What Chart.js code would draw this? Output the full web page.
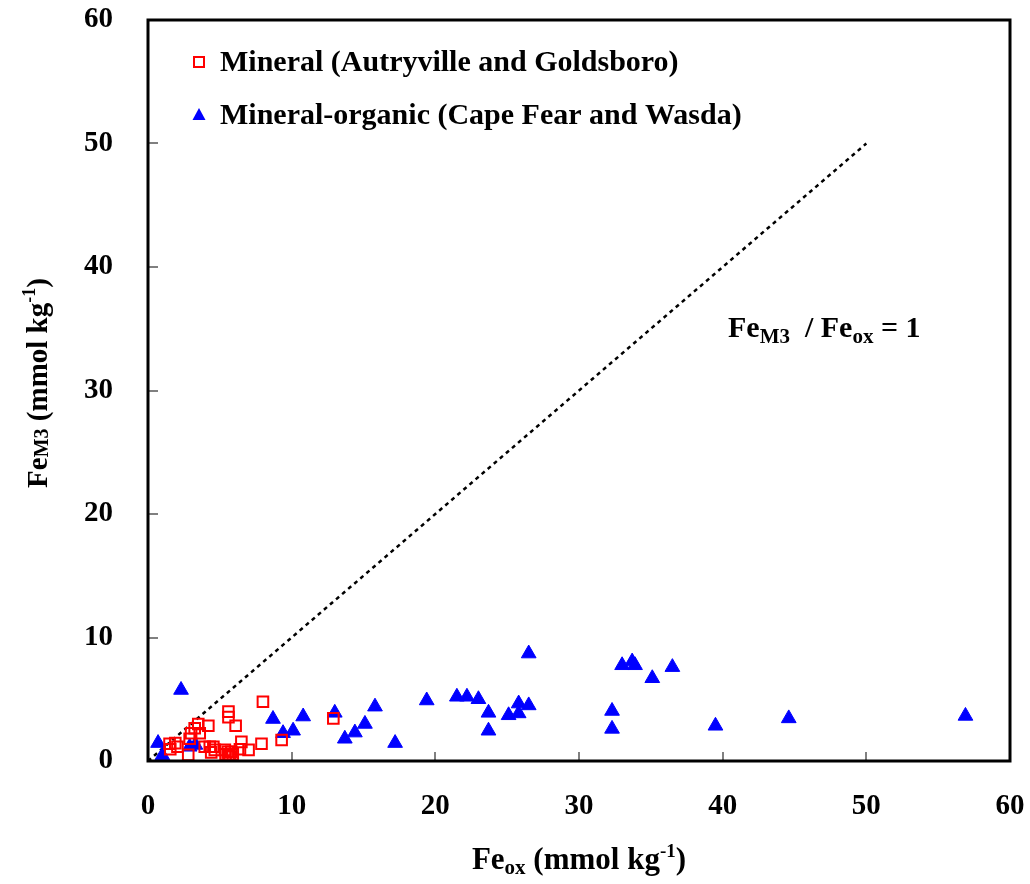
<!DOCTYPE html>
<html>
<head>
<meta charset="utf-8">
<title>FeM3 vs Feox</title>
<script src="https://cdn.jsdelivr.net/npm/chart.js@4.4.1/dist/chart.umd.min.js"></script>
<style>
  html, body { margin: 0; padding: 0; background: #fff; }
</style>
</head>
<body>
<canvas id="myChart" width="1030" height="884"></canvas>
<script>
// ------------------ DATA ------------------ //
// Mineral soils (Autryville and Goldsboro)
const mineralX = [1.55, 1.5, 1.9, 2.05, 2.8, 2.9, 3.0, 3.25, 3.5, 3.6, 3.95, 4.2, 4.3, 4.4, 4.55, 4.65,
                  5.35, 5.4, 5.55, 5.6, 5.7, 5.8, 5.9, 5.6, 5.6, 6.1, 6.4, 6.5, 7.0, 7.9, 8.0, 9.3, 12.9];
const mineralY = [0.95, 1.4, 1.45, 1.15, 0.5, 1.8, 2.25, 2.65, 3.0, 2.25, 1.15, 2.85, 1.15, 0.7, 1.15, 0.9,
                  0.9, 0.55, 0.75, 0.45, 0.35, 0.75, 0.55, 4.0, 3.55, 2.85, 0.95, 1.55, 0.9, 1.4, 4.8, 1.7, 3.45];

// Mineral-organic soils (Cape Fear and Wasda)
const organicX = [0.7, 1.0, 2.3, 2.9, 3.3, 8.7, 9.4, 10.1, 10.8, 13.0, 13.7, 14.4, 15.1, 15.8, 17.2, 19.4,
                  21.5, 22.2, 23.0, 23.7, 23.7, 25.1, 25.8, 25.8, 26.5, 26.5, 32.3, 32.3, 33.0, 33.7, 33.9,
                  35.1, 36.5, 39.5, 44.6, 56.9];
const organicY = [1.45, 0.45, 5.75, 1.15, 1.3, 3.4, 2.25, 2.45, 3.6, 3.9, 1.8, 2.3, 3.0, 4.4, 1.45, 4.9,
                  5.2, 5.2, 5.0, 3.9, 2.45, 3.7, 4.65, 3.85, 4.5, 8.7, 4.05, 2.6, 7.75, 8.05, 7.75,
                  6.7, 7.6, 2.85, 3.45, 3.65];

// 1:1 reference line
const lineX = [0, 50];
const lineY = [0, 50];

const xTicks = [0, 10, 20, 30, 40, 50, 60];
const yTicks = [0, 10, 20, 30, 40, 50, 60];

const legendLabels = ["Mineral (Autryville and Goldsboro)", "Mineral-organic (Cape Fear and Wasda)"];

const toPoints = (xs, ys) => xs.map((v, i) => ({ x: v, y: ys[i] }));

const SERIF = "'Liberation Serif', 'Times New Roman', serif";

// draw a run of text pieces (normal / sub / superscript) starting at x
function textRuns(ctx, runs, x, y, align) {
  let total = 0;
  runs.forEach(r => {
    ctx.font = "bold " + r.size + "px " + SERIF;
    r.w = ctx.measureText(r.t).width;
    total += r.w;
  });
  let cx = align === "center" ? x - total / 2 : x;
  runs.forEach(r => {
    ctx.font = "bold " + r.size + "px " + SERIF;
    ctx.fillText(r.t, cx, y + (r.dy || 0));
    cx += r.w;
  });
}

// keep the plot box where the layout padding puts it
function noLabelPadding(s) {
  s.paddingTop = 0;
  s.paddingBottom = 0;
  s.paddingLeft = 0;
  s.paddingRight = 0;
}

// ------------------ FRAME, TITLES, LEGEND ------------------ //
const decorations = {
  id: "decorations",
  afterDraw(chart) {
    const { ctx, chartArea: a, scales: { x, y } } = chart;
    ctx.save();

    // short grey tick marks pointing into the plot
    ctx.strokeStyle = "#808080";
    ctx.lineWidth = 2;
    ctx.beginPath();
    xTicks.slice(1, -1).forEach(v => {
      const px = Math.round(x.getPixelForValue(v));
      ctx.moveTo(px, a.bottom);
      ctx.lineTo(px, a.bottom - 9);
    });
    yTicks.slice(1, -1).forEach(v => {
      const py = Math.round(y.getPixelForValue(v));
      ctx.moveTo(a.left, py);
      ctx.lineTo(a.left + 10, py);
    });
    ctx.stroke();

    // plot frame
    ctx.strokeStyle = "#000";
    ctx.lineWidth = 3;
    ctx.strokeRect(a.left, a.top, a.right - a.left, a.bottom - a.top);

    ctx.fillStyle = "#000";
    ctx.textBaseline = "alphabetic";

    // x axis title
    textRuns(ctx, [
      { t: "Fe", size: 31 },
      { t: "ox", size: 21, dy: 5 },
      { t: " (mmol kg", size: 31 },
      { t: "-1", size: 19, dy: -12 },
      { t: ")", size: 31 }
    ], (a.left + a.right) / 2, 869, "center");

    // y axis title, rotated
    ctx.save();
    ctx.translate(47, 383);
    ctx.rotate(-Math.PI / 2);
    textRuns(ctx, [
      { t: "Fe", size: 29 },
      { t: "M3", size: 20, dy: 1 },
      { t: " (mmol kg", size: 29 },
      { t: "-1", size: 18, dy: -12 },
      { t: ")", size: 29 }
    ], 0, 0, "center");
    ctx.restore();

    // ratio label next to the 1:1 line
    textRuns(ctx, [
      { t: "Fe", size: 30 },
      { t: "M3", size: 21, dy: 6 },
      { t: "  / Fe", size: 30 },
      { t: "ox", size: 21, dy: 6 },
      { t: " = 1", size: 30 }
    ], 728, 337, "left");

    // legend
    ctx.strokeStyle = "#ff0000";
    ctx.lineWidth = 2;
    ctx.strokeRect(194, 57, 10, 10);
    ctx.fillStyle = "#0000ff";
    ctx.beginPath();
    ctx.moveTo(199, 108);
    ctx.lineTo(205.5, 120);
    ctx.lineTo(192.5, 120);
    ctx.closePath();
    ctx.fill();

    ctx.fillStyle = "#000";
    ctx.font = "bold 30px " + SERIF;
    ctx.textBaseline = "middle";
    ctx.fillText(legendLabels[0], 220, 63);
    ctx.fillText(legendLabels[1], 220, 116);

    ctx.restore();
  }
};

// ------------------ CHART ------------------ //
const tickFont = { family: SERIF, size: 29, weight: "bold" };

const ctx = document.getElementById("myChart").getContext("2d");
const chart = new Chart(ctx, {
  type: "scatter",
  data: {
    datasets: [
      {
        label: legendLabels[0],
        data: toPoints(mineralX, mineralY),
        pointStyle: "rect",
        pointRadius: 7.5,
        borderColor: "#ff0000",
        borderWidth: 2,
        backgroundColor: "rgba(0,0,0,0)"
      },
      {
        label: legendLabels[1],
        data: toPoints(organicX, organicY),
        pointStyle: "triangle",
        pointRadius: 8.5,
        borderColor: "#0000ff",
        borderWidth: 1,
        backgroundColor: "#0000ff"
      },
      {
        label: "1:1",
        type: "line",
        data: toPoints(lineX, lineY),
        showLine: true,
        pointRadius: 0,
        borderColor: "#000",
        borderWidth: 2.5,
        borderDash: [4, 4],
        fill: false
      }
    ]
  },
  options: {
    responsive: false,
    animation: false,
    layout: { padding: { left: 0, top: 20, right: 20, bottom: 0 } },
    plugins: {
      legend: { display: false },
      tooltip: { enabled: false }
    },
    scales: {
      x: {
        type: "linear",
        min: 0,
        max: 60,
        afterBuildTicks: s => { s.ticks = xTicks.map(v => ({ value: v })); },
        afterFit: s => { s.height = 123; noLabelPadding(s); },
        grid: { display: false, drawTicks: false },
        border: { display: false },
        ticks: { color: "#000", font: tickFont, padding: 28, maxRotation: 0 }
      },
      y: {
        type: "linear",
        min: 0,
        max: 60,
        afterBuildTicks: s => { s.ticks = yTicks.map(v => ({ value: v })); },
        afterFit: s => { s.width = 148; noLabelPadding(s); },
        grid: { display: false, drawTicks: false },
        border: { display: false },
        ticks: { color: "#000", font: tickFont, padding: 35 }
      }
    }
  },
  plugins: [decorations]
});
</script>
</body>
</html>
